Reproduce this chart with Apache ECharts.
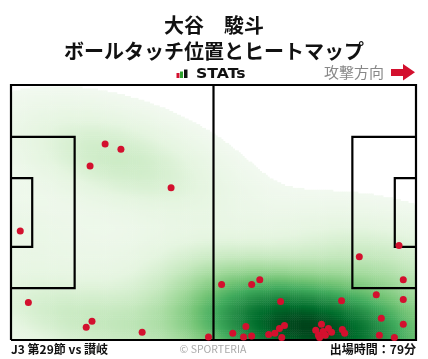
<!DOCTYPE html>
<html><head><meta charset="utf-8">
<script src="https://cdn.jsdelivr.net/npm/echarts@6/dist/echarts.min.js"></script>
<style>html,body{margin:0;padding:0;background:#fff}#c{width:428px;height:359px}</style>
</head><body><div id="c"></div>
<script>
// ---- data (metres: x 0..105 left->right, y 0..68 bottom->top) ----
const touchX = [24.4,28.5,20.5,41.5,2.4,4.5,21.0,19.5,34.0,51.2,
  54.6,62.4,64.5,69.9,60.9,57.5,60.3,62.4,66.8,68.4,69.6,70.9,70.2,
  100.6,90.3,101.7,94.7,85.7,101.7,96.0,101.7,80.5,82.3,79.0,80.9,83.1,85.9,86.5,79.7,81.5,80.0,95.5,99.4];
const touchY = [52.3,50.9,46.4,40.6,29.1,10.0,5.0,3.4,2.1,0.8,
  14.8,14.8,16.1,10.3,3.6,1.8,0.8,1.1,1.5,1.8,3.1,3.9,0.7,
  25.2,22.2,16.1,12.1,10.5,10.8,5.8,4.2,4.2,3.1,2.6,2.3,2.1,2.8,1.8,1.3,1.3,0.7,1.3,0.7];
const pitchLength = 105, pitchWidth = 68;
const penaltyDepth = 16.5, penaltyWidth = 40.32;
const goalAreaDepth = 5.5, goalAreaWidth = 18.32;
const titleName = '大谷　駿斗';
const titleSub = 'ボールタッチ位置とヒートマップ';
const matchLabel = 'J3 第29節 vs 讃岐';
const minutesLabel = '出場時間：79分';

// ---- kernel density (Scott bandwidth, full covariance) ----
const n = touchX.length;
let mxv = 0, myv = 0;
for (let k = 0; k < n; k++) { mxv += touchX[k]; myv += touchY[k]; }
mxv /= n; myv /= n;
let cxx = 0, cyy = 0, cxy = 0;
for (let k = 0; k < n; k++) {
  const dx = touchX[k] - mxv, dy = touchY[k] - myv;
  cxx += dx * dx; cyy += dy * dy; cxy += dx * dy;
}
cxx /= (n - 1); cyy /= (n - 1); cxy /= (n - 1);
const bwAdjust = 1.1;
const fac = Math.pow(n, -1 / 6) * bwAdjust;
const A = cxx * fac * fac, B = cxy * fac * fac, D = cyy * fac * fac;
const det = A * D - B * B;
const iA = D / det, iB = -B / det, iD = A / det;
function dens(x, y) {
  let s = 0;
  for (let k = 0; k < n; k++) {
    const dx = x - touchX[k], dy = y - touchY[k];
    s += Math.exp(-0.5 * (iA * dx * dx + 2 * iB * dx * dy + iD * dy * dy));
  }
  return s;
}
const NX = 210, NY = 136;
const cw = pitchLength / NX, ch = pitchWidth / NY;
const vals = new Float64Array(NX * NY);
let vmax = 0;
for (let j = 0; j < NY; j++) for (let i = 0; i < NX; i++) {
  const v = dens((i + 0.5) * cw, (j + 0.5) * ch);
  vals[j * NX + i] = v; if (v > vmax) vmax = v;
}
const thresh = dens(52.5, 55.0) / vmax;
const gamma = 0.8;
const heat = [];
for (let j = 0; j < NY; j++) for (let i = 0; i < NX; i++) {
  const lv = vals[j * NX + i] / vmax;
  if (lv >= thresh) heat.push([i, j, Math.pow((lv - thresh) / (1 - thresh), gamma)]);
}
const xCats = Array.from({ length: NX }, (_, i) => i);
const yCats = Array.from({ length: NY }, (_, j) => j);

// ---- pitch line polylines built from dimensions ----
const L = pitchLength, W = pitchWidth, cy = W / 2;
const rect = (x0, y0, x1, y1) => [[x0, y0], [x1, y0], [x1, y1], [x0, y1], [x0, y0]];
const pitchPolys = [
  rect(0, 0, L, W),
  [[L / 2, 0], [L / 2, W]],
  [[0, cy - penaltyWidth / 2], [penaltyDepth, cy - penaltyWidth / 2], [penaltyDepth, cy + penaltyWidth / 2], [0, cy + penaltyWidth / 2]],
  [[0, cy - goalAreaWidth / 2], [goalAreaDepth, cy - goalAreaWidth / 2], [goalAreaDepth, cy + goalAreaWidth / 2], [0, cy + goalAreaWidth / 2]],
  [[L, cy - penaltyWidth / 2], [L - penaltyDepth, cy - penaltyWidth / 2], [L - penaltyDepth, cy + penaltyWidth / 2], [L, cy + penaltyWidth / 2]],
  [[L, cy - goalAreaWidth / 2], [L - goalAreaDepth, cy - goalAreaWidth / 2], [L - goalAreaDepth, cy + goalAreaWidth / 2], [L, cy + goalAreaWidth / 2]]
];

const FONT = '"Noto Sans CJK JP", "Noto Sans", sans-serif';
const gridBox = { left: 11, top: 85, width: 405, height: 255 };
const chart = echarts.init(document.getElementById('c'), null, { renderer: 'canvas' });
const series = [{
  type: 'heatmap', xAxisIndex: 0, yAxisIndex: 0, data: heat,
  progressive: 0, silent: true, itemStyle: { borderWidth: 0 }
}];
pitchPolys.forEach(p => series.push({
  type: 'line', xAxisIndex: 1, yAxisIndex: 1, data: p, symbol: 'none', clip: false,
  silent: true, lineStyle: { color: '#000', width: 2.2, join: 'miter' }, z: 3, animation: false
}));
series.push({
  type: 'scatter', xAxisIndex: 1, yAxisIndex: 1, symbolSize: 7, clip: false,
  data: touchX.map((x, k) => [x, touchY[k]]),
  itemStyle: { color: '#d3102e', opacity: 1 }, z: 5, silent: true
});

chart.setOption({
  animation: false,
  backgroundColor: '#fff',
  title: {
    text: titleName + '\n' + titleSub, left: 'center', top: 7,
    textStyle: { fontFamily: FONT, fontSize: 20, fontWeight: 'bold', color: '#111', lineHeight: 26 }
  },
  grid: [Object.assign({}, gridBox), Object.assign({}, gridBox)],
  xAxis: [
    { type: 'category', gridIndex: 0, data: xCats, show: false },
    { type: 'value', gridIndex: 1, min: 0, max: pitchLength, show: false }
  ],
  yAxis: [
    { type: 'category', gridIndex: 0, data: yCats, show: false },
    { type: 'value', gridIndex: 1, min: 0, max: pitchWidth, show: false }
  ],
  visualMap: {
    show: false, type: 'continuous', seriesIndex: 0, dimension: 2, min: 0, max: 1,
    inRange: { color: ['#f2f9f0', '#e5f5e0', '#c7e9c0', '#a1d99b', '#74c476', '#41ab5d', '#238b45', '#006d2c', '#00441b'] }
  },
  graphic: [
    { type: 'rect', shape: { x: 176.5, y: 73, width: 3, height: 5 }, style: { fill: '#d3102e' } },
    { type: 'rect', shape: { x: 180, y: 71.5, width: 3, height: 6.5 }, style: { fill: '#2ca02c' } },
    { type: 'rect', shape: { x: 184, y: 69.5, width: 3.5, height: 8.5 }, style: { fill: '#111' } },
    { type: 'text', x: 196, y: 74, scaleX: 1.12, style: { text: 'STATs', fontFamily: '"DejaVu Sans", sans-serif', fontWeight: 'bold', fontSize: 14, fill: '#111', verticalAlign: 'middle' } },
    { type: 'text', x: 384, y: 72.5, style: { text: '攻撃方向', fontFamily: FONT, fontSize: 15, fill: '#888', align: 'right', verticalAlign: 'middle' } },
    { type: 'polygon', shape: { points: [[391, 69], [403, 69], [403, 64], [415, 72.3], [403, 80.5], [403, 76], [391, 76]] }, style: { fill: '#d3102e' } },
    { type: 'text', x: 11, y: 349, style: { text: matchLabel, fontFamily: FONT, fontSize: 12, fontWeight: 'bold', fill: '#111', verticalAlign: 'middle' } },
    { type: 'text', x: 213, y: 349, style: { text: '© SPORTERIA', fontFamily: FONT, fontSize: 10.5, fill: '#aaa', align: 'center', verticalAlign: 'middle' } },
    { type: 'text', x: 416, y: 349, style: { text: minutesLabel, fontFamily: FONT, fontSize: 12, fontWeight: 'bold', fill: '#111', align: 'right', verticalAlign: 'middle' } }
  ],
  series: series
});
</script></body></html>
